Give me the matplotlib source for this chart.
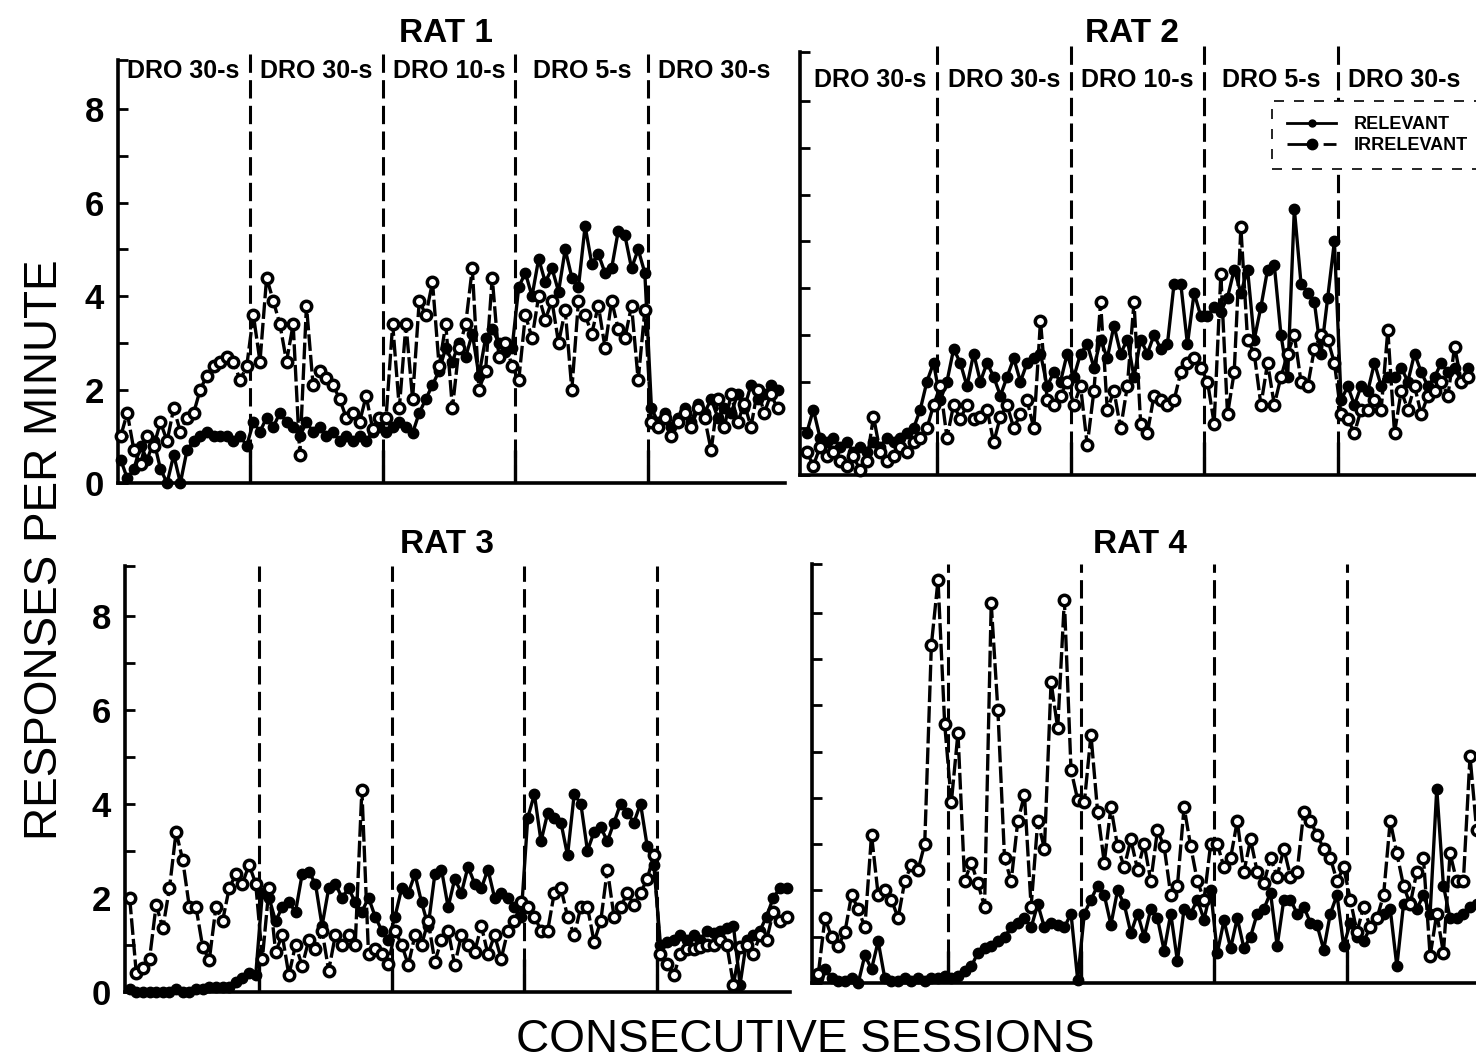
import numpy as np
import matplotlib
matplotlib.use("Agg")
import matplotlib.pyplot as plt
from matplotlib.lines import Line2D

plt.rcParams['font.family'] = ['Liberation Sans', 'DejaVu Sans']

# ---------------- data ----------------
phase_labels = ["DRO 30-s", "DRO 30-s", "DRO 10-s", "DRO 5-s", "DRO 30-s"]
sessions_per_phase = 20
rat_titles = ["RAT 1", "RAT 2", "RAT 3", "RAT 4"]
y_ticks = [0, 2, 4, 6, 8]
legend_labels = ["RELEVANT", "IRRELEVANT"]

rat1_relevant = [
    0.5, 0.1, 0.3, 0.8, 0.5, 0.9, 0.3, 0.0, 0.6, 0.0, 0.7, 0.9, 1.0, 1.1, 1.0, 1.0, 1.0, 0.9, 1.0, 0.8,
    1.3, 1.1, 1.4, 1.2, 1.5, 1.3, 1.2, 1.0, 1.3, 1.1, 1.2, 1.0, 1.1, 0.9, 1.0, 0.9, 1.0, 0.9, 1.1, 1.2,
    1.1, 1.2, 1.3, 1.2, 1.07, 1.5, 1.8, 2.1, 2.4, 2.9, 2.6, 3.0, 2.7, 3.2, 2.3, 3.1, 3.3, 3.0, 2.8, 2.9,
    4.2, 4.5, 4.0, 4.8, 4.3, 4.6, 4.1, 5.0, 4.4, 4.2, 5.5, 4.7, 4.9, 4.5, 4.6, 5.4, 5.3, 4.6, 5.0, 4.5,
    1.6, 1.3, 1.5, 1.2, 1.4, 1.6, 1.3, 1.7, 1.5, 1.8, 1.4, 1.6, 1.5, 1.9, 1.6, 2.1, 1.8, 1.9, 2.1, 2.0,
]
rat1_irrelevant = [
    1.0, 1.5, 0.7, 0.4, 1.0, 0.8, 1.3, 0.9, 1.6, 1.1, 1.4, 1.5, 2.0, 2.3, 2.5, 2.6, 2.7, 2.6, 2.2, 2.5,
    3.6, 2.6, 4.4, 3.9, 3.4, 2.6, 3.4, 0.6, 3.8, 2.1, 2.4, 2.25, 2.1, 1.8, 1.4, 1.5, 1.3, 1.86, 1.15, 1.4,
    1.4, 3.4, 1.6, 3.4, 1.8, 3.9, 3.6, 4.3, 2.5, 3.4, 1.6, 2.9, 3.4, 4.6, 2.0, 2.4, 4.4, 2.7, 3.0, 2.5,
    2.2, 3.6, 3.1, 4.0, 3.5, 3.9, 3.0, 3.7, 2.0, 3.9, 3.6, 3.2, 3.8, 2.9, 3.9, 3.3, 3.1, 3.8, 2.2, 3.7,
    1.3, 1.2, 1.4, 1.0, 1.3, 1.5, 1.2, 1.6, 1.4, 0.7, 1.8, 1.2, 1.9, 1.3, 1.7, 1.2, 2.0, 1.5, 1.9, 1.6,
]

rat2_relevant = [
    0.9, 1.4, 0.8, 0.7, 0.8, 0.6, 0.7, 0.5, 0.6, 0.5, 0.7, 0.6, 0.8, 0.7, 0.8, 0.9, 1.0, 1.4, 2.0, 2.4,
    1.6, 2.0, 2.7, 2.4, 1.9, 2.6, 2.0, 2.4, 2.1, 1.7, 2.1, 2.5, 2.0, 2.4, 2.5, 2.6, 1.9, 2.2, 2.0, 2.6,
    2.1, 2.6, 2.8, 2.3, 2.9, 2.5, 3.2, 2.6, 2.9, 2.1, 2.9, 2.6, 3.0, 2.7, 2.8, 4.1, 4.1, 2.8, 3.9, 3.4,
    3.4, 3.6, 3.5, 3.8, 4.4, 3.9, 4.4, 2.9, 3.6, 4.4, 4.5, 3.0, 2.1, 5.7, 4.1, 3.9, 3.7, 2.6, 3.8, 5.0,
    1.6, 1.9, 1.5, 1.9, 1.8, 2.4, 1.9, 2.1, 2.1, 2.3, 2.0, 2.6, 2.2, 1.9, 2.1, 2.4, 2.2, 2.3, 2.0, 2.3,
]
rat2_irrelevant = [
    0.5, 0.2, 0.6, 0.4, 0.5, 0.3, 0.2, 0.4, 0.1, 0.3, 1.25, 0.5, 0.3, 0.4, 0.6, 0.5, 0.7, 0.8, 1.0, 1.5,
    1.9, 0.8, 1.5, 1.2, 1.5, 1.2, 1.25, 1.4, 0.7, 1.25, 1.5, 1.0, 1.3, 1.6, 1.0, 3.3, 1.6, 1.5, 1.7, 2.0,
    1.5, 1.9, 0.64, 1.8, 3.7, 1.4, 1.8, 1.0, 1.9, 3.7, 1.1, 0.9, 1.7, 1.6, 1.5, 1.6, 2.2, 2.4, 2.5, 2.3,
    2.0, 1.1, 4.3, 1.3, 2.2, 5.3, 2.9, 2.6, 1.5, 2.4, 1.5, 2.1, 2.6, 3.0, 2.0, 1.9, 2.7, 3.0, 2.9, 2.4,
    1.3, 1.2, 0.9, 1.4, 1.4, 1.6, 1.4, 3.1, 0.9, 1.8, 1.4, 1.9, 1.3, 1.7, 1.8, 2.0, 1.7, 2.75, 2.0, 2.1,
]

rat3_relevant = [
    0.05, 0.0, 0.0, 0.0, 0.0, 0.0, 0.0, 0.05, 0.0, 0.0, 0.05, 0.05, 0.1, 0.1, 0.1, 0.1, 0.2, 0.3, 0.4, 0.35,
    2.1, 2.0, 1.5, 1.8, 1.9, 1.7, 2.5, 2.55, 2.3, 1.4, 2.2, 2.3, 2.0, 2.2, 1.9, 1.7, 2.0, 1.6, 1.3, 1.1,
    1.6, 2.2, 2.1, 2.5, 1.9, 1.4, 2.5, 2.6, 1.8, 2.4, 2.1, 2.66, 2.3, 2.2, 2.6, 2.0, 2.1, 2.0, 1.8, 1.6,
    3.7, 4.2, 3.2, 3.8, 3.7, 3.6, 2.9, 4.2, 4.0, 3.0, 3.4, 3.5, 3.2, 3.6, 4.0, 3.8, 3.6, 4.0, 3.1, 2.7,
    1.0, 1.05, 1.1, 1.2, 1.1, 1.2, 1.1, 1.3, 1.25, 1.3, 1.35, 1.4, 0.15, 1.1, 1.2, 1.3, 1.6, 2.0, 2.2, 2.2,
]
rat3_irrelevant = [
    2.0, 0.4, 0.5, 0.7, 1.85, 1.35, 2.2, 3.4, 2.8, 1.8, 1.8, 0.96, 0.67, 1.8, 1.5, 2.2, 2.5, 2.3, 2.7, 2.3,
    0.7, 2.2, 0.85, 1.2, 0.35, 1.0, 0.55, 1.1, 0.9, 1.3, 0.45, 1.2, 1.0, 1.2, 1.0, 4.3, 0.8, 0.9, 0.8, 0.6,
    1.3, 1.0, 0.57, 1.2, 1.0, 1.5, 0.64, 1.1, 1.3, 0.57, 1.2, 1.0, 0.85, 1.4, 0.8, 1.2, 0.7, 1.3, 1.5, 1.9,
    1.8, 1.6, 1.3, 1.3, 2.1, 2.2, 1.6, 1.2, 1.8, 1.8, 1.06, 1.5, 2.6, 1.6, 1.8, 2.1, 1.85, 2.1, 2.4, 2.9,
    0.8, 0.6, 0.35, 0.8, 0.9, 0.9, 0.95, 1.0, 1.0, 1.1, 1.0, 0.15, 0.95, 1.0, 0.8, 1.2, 1.1, 1.7, 1.5, 1.6,
]

rat4_relevant = [
    0.1, 0.3, 0.1, 0.05, 0.05, 0.1, 0.0, 0.6, 0.3, 0.9, 0.1, 0.05, 0.05, 0.1, 0.05, 0.1, 0.05, 0.1, 0.1, 0.15,
    0.1, 0.15, 0.25, 0.36, 0.65, 0.75, 0.8, 0.9, 1.0, 1.2, 1.3, 1.4, 1.2, 1.7, 1.2, 1.3, 1.25, 1.2, 1.5, 0.07,
    1.5, 1.8, 2.1, 1.9, 1.26, 2.0, 1.7, 1.08, 1.5, 1.0, 1.6, 1.4, 0.7, 1.5, 0.47, 1.6, 1.5, 1.8, 1.37, 2.0,
    0.65, 1.35, 0.75, 1.4, 0.75, 1.0, 1.5, 1.6, 1.95, 0.8, 1.8, 1.8, 1.5, 1.65, 1.3, 1.25, 0.72, 1.5, 1.9, 0.8,
    1.3, 1.0, 0.9, 1.2, 1.4, 1.5, 1.6, 0.36, 1.7, 1.75, 1.6, 1.9, 1.5, 4.2, 2.1, 1.4, 1.4, 1.5, 1.65, 1.7,
]
rat4_irrelevant = [
    0.2, 1.4, 1.0, 0.8, 1.1, 1.9, 1.6, 1.2, 3.2, 1.9, 2.0, 1.8, 1.4, 2.2, 2.55, 2.45, 3.0, 7.3, 8.7, 5.6,
    3.9, 5.4, 2.2, 2.6, 2.15, 1.65, 8.2, 5.9, 2.7, 2.2, 3.5, 4.06, 1.65, 3.5, 2.9, 6.5, 5.5, 8.27, 4.6, 3.96,
    3.9, 5.36, 3.7, 2.6, 3.8, 2.95, 2.5, 3.1, 2.45, 3.0, 2.2, 3.3, 2.95, 1.9, 2.1, 3.8, 2.95, 2.2, 1.8, 3.0,
    3.0, 2.5, 2.7, 3.5, 2.4, 3.1, 2.4, 2.15, 2.7, 2.3, 2.9, 2.3, 2.4, 3.7, 3.5, 3.2, 2.9, 2.7, 2.2, 2.5,
    1.8, 1.1, 1.65, 1.2, 1.4, 1.9, 3.5, 2.8, 2.1, 1.7, 2.4, 2.7, 0.58, 1.5, 0.65, 2.8, 2.2, 2.2, 4.9, 3.3,
]

relevant_series = [rat1_relevant, rat2_relevant, rat3_relevant, rat4_relevant]
irrelevant_series = [rat1_irrelevant, rat2_irrelevant, rat3_irrelevant, rat4_irrelevant]

# ---------------- layout ----------------
W, H = 1476, 1064
fig = plt.figure(figsize=(W / 100, H / 100), dpi=100)
YLIM = (0, 9.05)

panels = [
    dict(left=118, y0=483, pxx=6.635, pxy=46.7, xlim=(0.6, 101.15), title=(446, 42),
         ylabels=True, phase_y=8.67, div_top=9.3),
    dict(left=800, y0=475, pxx=6.68, pxy=46.7, xlim=(0.0, 105.0), title=(1132, 42),
         ylabels=False, phase_y=8.3, div_top=9.3),
    dict(left=125, y0=991.7, pxx=6.635, pxy=47.0, xlim=(0.3, 100.5), title=(447, 553),
         ylabels=True, phase_y=None, div_top=9.05),
    dict(left=812, y0=983, pxx=6.65, pxy=46.3, xlim=(0.05, 105.0), title=(1140, 553),
         ylabels=False, phase_y=None, div_top=9.05),
]

n_phases = len(phase_labels)
boundaries = [sessions_per_phase * k + 0.5 for k in range(1, n_phases)]
phase_centers = [sessions_per_phase * k + sessions_per_phase / 2 + 0.5 for k in range(n_phases)]

axes = []
for i, p in enumerate(panels):
    width = (p['xlim'][1] - p['xlim'][0]) * p['pxx']
    height = (YLIM[1] - YLIM[0]) * p['pxy']
    ax = fig.add_axes([p['left'] / W, 1 - p['y0'] / H, width / W, height / H])
    ax.set_xlim(*p['xlim'])
    ax.set_ylim(*YLIM)
    for s in ['top', 'right']:
        ax.spines[s].set_visible(False)
    for s in ['left', 'bottom']:
        ax.spines[s].set_linewidth(2.6)
    ax.set_xticks([])
    ax.set_yticks(y_ticks)
    ax.set_yticks([1, 3, 5, 7, YLIM[1]], minor=True)
    ax.tick_params(axis='y', which='both', direction='in', length=7, width=2)
    if p['ylabels']:
        ax.set_yticklabels([str(t) for t in y_ticks], fontsize=25, fontweight='bold')
        ax.tick_params(axis='y', pad=10)
    else:
        ax.tick_params(axis='y', labelleft=False)

    sessions = np.arange(1, len(relevant_series[i]) + 1)
    ax.plot(sessions, relevant_series[i], color='k', lw=2.4, marker='o', ms=7.5,
            mfc='k', mec='k', clip_on=False, zorder=3)
    ax.plot(sessions, irrelevant_series[i], color='k', lw=2.4, ls=(0, (5, 1.2)),
            marker='o', ms=7.5, mfc='white', mec='k', mew=2.5, clip_on=False, zorder=4)

    ax.vlines(boundaries, 0, p['div_top'], colors='k', lw=2.2,
              linestyles=[(0, (6, 2.4))], clip_on=False, zorder=2)
    ax.vlines(boundaries, 0, 0.7, colors='k', lw=2.4, clip_on=False, zorder=2)

    if p['phase_y'] is not None:
        for c, lab in zip(phase_centers, phase_labels):
            ax.text(c, p['phase_y'], lab, ha='center', va='baseline',
                    fontsize=18, fontweight='bold')

    fig.text(p['title'][0] / W, 1 - p['title'][1] / H, rat_titles[i],
             ha='center', va='baseline', fontsize=24, fontweight='bold')
    axes.append(ax)

# legend in RAT 2 panel
handles = [
    Line2D([], [], color='k', lw=2, marker='o', ms=5),
    Line2D([], [], color='k', lw=2, ls=(0, (9, 4, 5, 20)), marker='o', ms=7.5),
]
leg = axes[1].legend(handles, legend_labels, loc='upper left',
                     bbox_to_anchor=(1272 / W, 1 - 101 / H), bbox_transform=fig.transFigure,
                     prop=dict(size=13, weight='bold'), handlelength=2.7, handletextpad=1.0,
                     borderpad=0.85, labelspacing=0.2, borderaxespad=0, frameon=True,
                     fancybox=False, framealpha=1)
fr = leg.get_frame()
fr.set_edgecolor('k')
fr.set_linestyle((0, (6, 6)))
fr.set_linewidth(1.2)

fig.text(57 / W, 1 - 550 / H, "RESPONSES PER MINUTE", rotation=90, rotation_mode='anchor',
         ha='center', va='baseline', fontsize=33)
fig.text(805 / W, 1 - 1052 / H, "CONSECUTIVE SESSIONS", ha='center', va='baseline',
         fontsize=33)

fig.savefig("out.png", dpi=100)
